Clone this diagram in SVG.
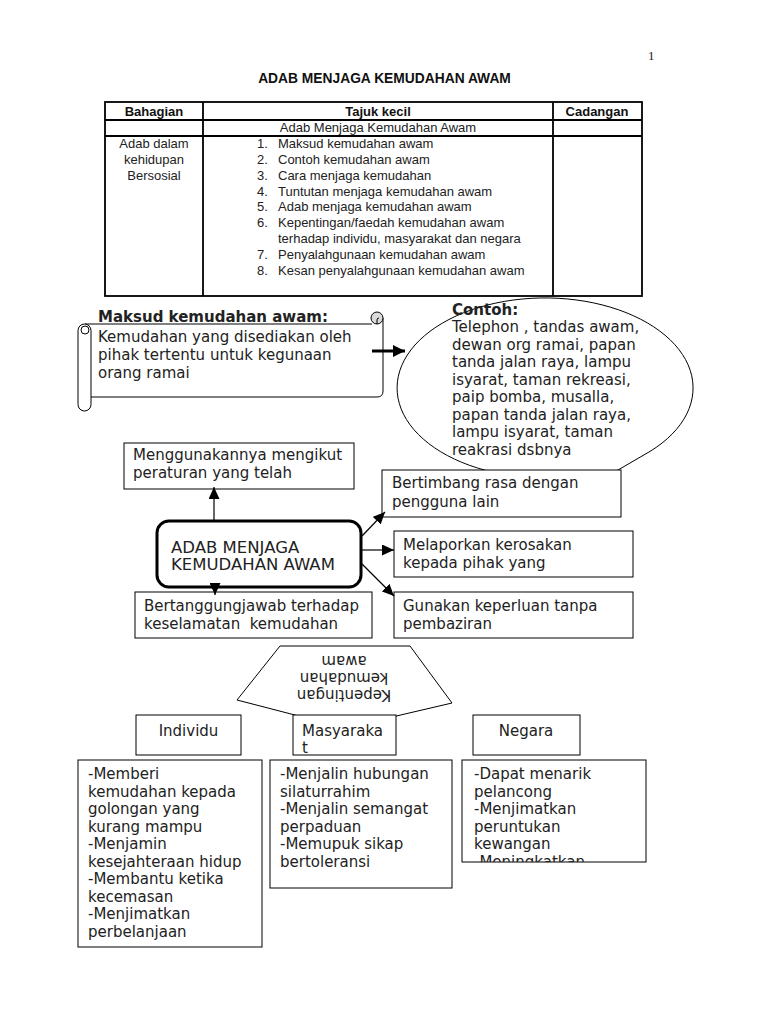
<svg xmlns="http://www.w3.org/2000/svg" width="768" height="1024" viewBox="0 0 768 1024">
<defs>
<style>
.t{font-family:"DejaVu Sans","Noto Sans",sans-serif;font-size:15px;fill:#222}
.tb{font-family:"DejaVu Sans","Noto Sans",sans-serif;font-size:15px;font-weight:bold;fill:#222}
.a{font-family:"Liberation Sans",Arial,sans-serif;font-size:13px;fill:#222}
.ab{font-family:"Liberation Sans",Arial,sans-serif;font-size:13px;font-weight:bold;fill:#111}
.box{fill:#fff;stroke:#000;stroke-width:1}
.ln{fill:none;stroke:#000;stroke-width:1}
.tl{stroke:#000;stroke-width:1.8;fill:none}
.con{stroke:#000;stroke-width:1.2;fill:none}
</style>
<marker id="ah" markerUnits="userSpaceOnUse" markerWidth="12" markerHeight="11" refX="12" refY="5.5" orient="auto">
<path d="M0,0 L12,5.5 L0,11 z" fill="#000"/>
</marker>
<marker id="ahb" markerUnits="userSpaceOnUse" markerWidth="12" markerHeight="12" refX="12" refY="6" orient="auto">
<path d="M0,0 L12,6 L0,12 z" fill="#000"/>
</marker>
<clipPath id="clipNeg"><rect x="462" y="760" width="184" height="102"/></clipPath>
</defs>
<rect width="768" height="1024" fill="#fff"/>

<text x="648" y="60" style="font-family:'Liberation Serif',serif;font-size:13px;fill:#222">1</text>
<text x="384.5" y="83" text-anchor="middle" class="ab" style="font-size:13.8px">ADAB MENJAGA KEMUDAHAN AWAM</text>

<g id="table">
<rect x="105" y="102" width="537" height="194" class="tl"/>
<line x1="105" y1="120" x2="642" y2="120" class="tl"/>
<line x1="105" y1="136" x2="642" y2="136" class="tl"/>
<line x1="203" y1="102" x2="203" y2="296" class="tl"/>
<line x1="553" y1="102" x2="553" y2="296" class="tl"/>
<text x="154" y="116" text-anchor="middle" class="ab">Bahagian</text>
<text x="378" y="116" text-anchor="middle" class="ab">Tajuk kecil</text>
<text x="597" y="116" text-anchor="middle" class="ab">Cadangan</text>
<text x="378" y="132" text-anchor="middle" class="a">Adab Menjaga Kemudahan Awam</text>
<text x="154" y="148" text-anchor="middle" class="a">Adab dalam</text>
<text x="154" y="164" text-anchor="middle" class="a">kehidupan</text>
<text x="154" y="180" text-anchor="middle" class="a">Bersosial</text>
<g class="a">
<text x="257" y="148">1.</text><text x="278" y="148">Maksud kemudahan awam</text>
<text x="257" y="164">2.</text><text x="278" y="164">Contoh kemudahan awam</text>
<text x="257" y="179.5">3.</text><text x="278" y="179.5">Cara menjaga kemudahan</text>
<text x="257" y="195.5">4.</text><text x="278" y="195.5">Tuntutan menjaga kemudahan awam</text>
<text x="257" y="211">5.</text><text x="278" y="211">Adab menjaga kemudahan awam</text>
<text x="257" y="227">6.</text><text x="278" y="227">Kepentingan/faedah kemudahan awam</text>
<text x="278" y="243">terhadap individu, masyarakat dan negara</text>
<text x="257" y="259">7.</text><text x="278" y="259">Penyalahgunaan kemudahan awam</text>
<text x="257" y="275">8.</text><text x="278" y="275">Kesan penyalahgunaan kemudahan awam</text>
</g>
</g>

<g id="maksud">
<path d="M85,324 H383 V391 Q383,397 377,397 H85 Z" fill="#fff"/>
<path d="M85,324 H372 M383,318 V391 Q383,397 377,397 H85" class="ln"/>
<circle cx="377" cy="318" r="6" fill="#d9d9d9" stroke="#000" stroke-width="1"/>
<path d="M377,324 V320 A2,2 0 0 1 379,318" class="ln"/>
<rect x="78" y="324" width="13" height="87" rx="6.5" class="box"/>
<circle cx="85" cy="330" r="4" class="ln"/>
<text x="98" y="322" class="tb">Maksud kemudahan awam:</text>
<text x="98" y="342" class="t">Kemudahan yang disediakan oleh</text>
<text x="98" y="360" class="t">pihak tertentu untuk kegunaan</text>
<text x="98" y="378" class="t">orang ramai</text>
</g>

<g id="contoh">
<path d="M600,471.5 L575,495 L650,451.4 A148,90 0 1 0 600,471.5 Z" class="box"/>
<text x="452" y="315" class="tb">Contoh:</text>
<g class="t">
<text x="452" y="332">Telephon , tandas awam,</text>
<text x="452" y="349.5">dewan org ramai, papan</text>
<text x="452" y="367">tanda jalan raya, lampu</text>
<text x="452" y="384.5">isyarat, taman rekreasi,</text>
<text x="452" y="402">paip bomba, musalla,</text>
<text x="452" y="419.5">papan tanda jalan raya,</text>
<text x="452" y="437">lampu isyarat, taman</text>
<text x="452" y="454.5">reakrasi dsbnya</text>
</g>
</g>

<g id="n-menggunakan">
<rect x="124" y="443" width="230" height="46" class="box"/>
<text x="133" y="460" class="t">Menggunakannya mengikut</text>
<text x="133" y="478" class="t">peraturan yang telah</text>
</g>

<g id="n-bertimbang">
<rect x="382" y="470" width="239" height="47" class="box"/>
<text x="392" y="488" class="t">Bertimbang rasa dengan</text>
<text x="392" y="507" class="t">pengguna lain</text>
</g>

<g id="n-center">
<rect x="157" y="521" width="204" height="66" rx="12" fill="#fff" stroke="#000" stroke-width="3"/>
<text x="171" y="553" class="t" style="font-size:16.5px">ADAB MENJAGA</text>
<text x="171" y="570" class="t" style="font-size:16.5px">KEMUDAHAN AWAM</text>
</g>

<g id="n-melaporkan">
<rect x="394" y="531" width="239" height="46" class="box"/>
<text x="403" y="550" class="t">Melaporkan kerosakan</text>
<text x="403" y="568" class="t">kepada pihak yang</text>
</g>

<g id="n-gunakan">
<rect x="394" y="592" width="239" height="46" class="box"/>
<text x="403" y="611" class="t">Gunakan keperluan tanpa</text>
<text x="403" y="629" class="t">pembaziran</text>
</g>

<g id="n-bertanggung">
<rect x="135" y="592" width="237" height="46" class="box"/>
<text x="144" y="611" class="t">Bertanggungjawab terhadap</text>
<text x="144" y="629" class="t">keselamatan&#160; kemudahan</text>
</g>

<g id="connectors">
<line x1="372" y1="351" x2="405" y2="351" stroke="#000" stroke-width="3" marker-end="url(#ahb)"/>
<line x1="214" y1="520" x2="214" y2="487" class="con" marker-end="url(#ah)"/>
<line x1="215" y1="584" x2="215" y2="595" class="con" marker-end="url(#ah)"/>
<line x1="362" y1="536" x2="385" y2="512" class="con" marker-end="url(#ah)"/>
<line x1="362" y1="550" x2="394" y2="550" class="con" marker-end="url(#ah)"/>
<line x1="362" y1="564" x2="394" y2="596" class="con" marker-end="url(#ah)"/>
</g>

<g id="kepentingan">
<polygon points="280,646 410,646 452,703 345,728 237,700" class="box"/>
<g transform="rotate(180 344 677)">
<text x="344" y="664" text-anchor="middle" class="t">Kepentingan</text>
<text x="344" y="681" text-anchor="middle" class="t">kemudahan</text>
<text x="344" y="698" text-anchor="middle" class="t">awam</text>
</g>
</g>

<g id="n-individu">
<rect x="136" y="715" width="105" height="40" class="box"/>
<text x="188.5" y="736" text-anchor="middle" class="t">Individu</text>
</g>
<g id="n-masyarakat">
<rect x="293" y="715" width="103" height="40" class="box"/>
<text x="302" y="736" class="t">Masyaraka</text>
<text x="302" y="753" class="t">t</text>
</g>
<g id="n-negara">
<rect x="473" y="715" width="107" height="40" class="box"/>
<text x="526" y="736" text-anchor="middle" class="t">Negara</text>
</g>

<g id="c-individu">
<rect x="78" y="760" width="184" height="187" class="box"/>
<g class="t">
<text x="88" y="779">-Memberi</text>
<text x="88" y="796.5">kemudahan kepada</text>
<text x="88" y="814">golongan yang</text>
<text x="88" y="831.5">kurang mampu</text>
<text x="88" y="849">-Menjamin</text>
<text x="88" y="866.5">kesejahteraan hidup</text>
<text x="88" y="884">-Membantu ketika</text>
<text x="88" y="901.5">kecemasan</text>
<text x="88" y="919">-Menjimatkan</text>
<text x="88" y="936.5">perbelanjaan</text>
</g>
</g>

<g id="c-masyarakat">
<rect x="270" y="760" width="182" height="128" class="box"/>
<g class="t">
<text x="280" y="779">-Menjalin hubungan</text>
<text x="280" y="796.5">silaturrahim</text>
<text x="280" y="814">-Menjalin semangat</text>
<text x="280" y="831.5">perpaduan</text>
<text x="280" y="849">-Memupuk sikap</text>
<text x="280" y="866.5">bertoleransi</text>
</g>
</g>

<g id="c-negara">
<rect x="462" y="760" width="184" height="102" class="box"/>
<g class="t" clip-path="url(#clipNeg)">
<text x="474" y="779">-Dapat menarik</text>
<text x="474" y="796.5">pelancong</text>
<text x="474" y="814">-Menjimatkan</text>
<text x="474" y="831.5">peruntukan</text>
<text x="474" y="849">kewangan</text>
<text x="474" y="866.5">-Meningkatkan</text>
</g>
</g>
</svg>
